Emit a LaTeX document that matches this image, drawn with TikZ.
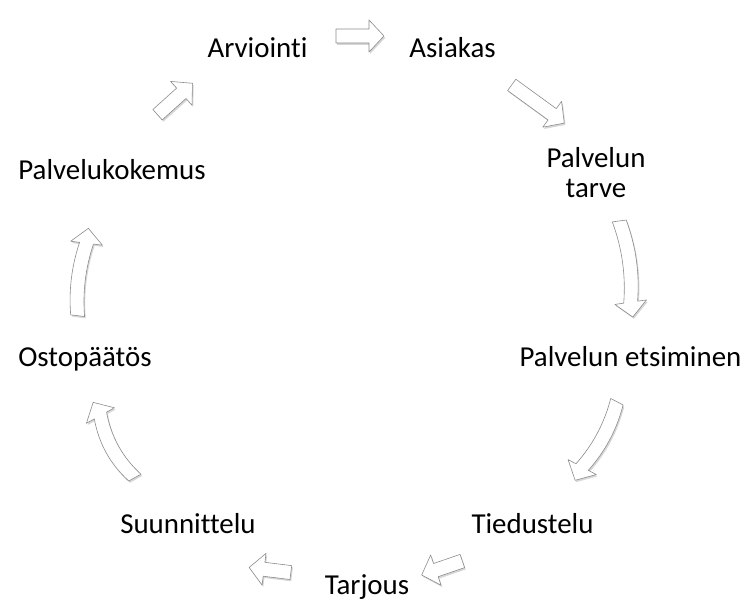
\documentclass[tikz,border=0pt]{standalone}
\usepackage{fontspec}
\setmainfont{Carlito}[Ligatures={NoCommon}]
\usepackage{tikz}
\usetikzlibrary{shadows}

\begin{document}
\begin{tikzpicture}[
    x=1bp, y=-1bp,
    lbl/.style={font=\fontsize{29}{31}\selectfont, anchor=base, inner sep=0pt, align=center},
    blk/.style={draw=black!45, line width=0.6bp, fill=white, line join=round,
        drop shadow={shadow xshift=1.2bp, shadow yshift=-1.8bp, fill=black!35, opacity=0.45}},
    pics/blkarrow/.style args={#1/#2}{code={
        \path[blk] ({-(#1)/2},-7) .. controls ({-(#1)/2+((#1)-15)/3},{-7+(#2)}) and ({-(#1)/2+2*((#1)-15)/3},{-7+(#2)}) .. ({(#1)/2-15},-7)
            -- ({(#1)/2-15},-16) -- ({(#1)/2},0) -- ({(#1)/2-15},16) -- ({(#1)/2-15},7)
            .. controls ({-(#1)/2+2*((#1)-15)/3},{7+(#2)}) and ({-(#1)/2+((#1)-15)/3},{7+(#2)}) .. ({-(#1)/2},7) -- cycle;
    }},
]
    \useasboundingbox (0,0) rectangle (744,602);

    % Labels
    \node[lbl] (arviointi) at (257.5,58) {Arviointi};
    \node[lbl] (asiakas) at (452.5,58) {Asiakas};
    \node[lbl] (tarve) at (596,198) {Palvelun\\tarve};
    \node[lbl] (etsiminen) at (630.5,366) {Palvelun etsiminen};
    \node[lbl] (tiedustelu) at (532.5,533) {Tiedustelu};
    \node[lbl] (tarjous) at (367,594) {Tarjous};
    \node[lbl] (suunnittelu) at (188,533) {Suunnittelu};
    \node[lbl] (ostopaatos) at (85,366) {Ostopäätös};
    \node[lbl] (kokemus) at (112,180) {Palvelukokemus};

    % Arrows (block shapes)
    \pic[rotate=0] at (360,36) {blkarrow=48/0};
    \pic[rotate=-36] at (538,104) {blkarrow=65/0};
    \pic[rotate=-82] at (626,269) {blkarrow=97/-6};
    \pic[rotate=-118] at (596,441) {blkarrow=89/-6};
    \pic[rotate=-161] at (442,568) {blkarrow=43/0};
    \pic[rotate=173] at (270,570) {blkarrow=42/0};
    \pic[rotate=119] at (114,440) {blkarrow=86/-8};
    \pic[rotate=83] at (83,272) {blkarrow=88/-5};
    \pic[rotate=42] at (175,99) {blkarrow=47/0};
\end{tikzpicture}
\end{document}
